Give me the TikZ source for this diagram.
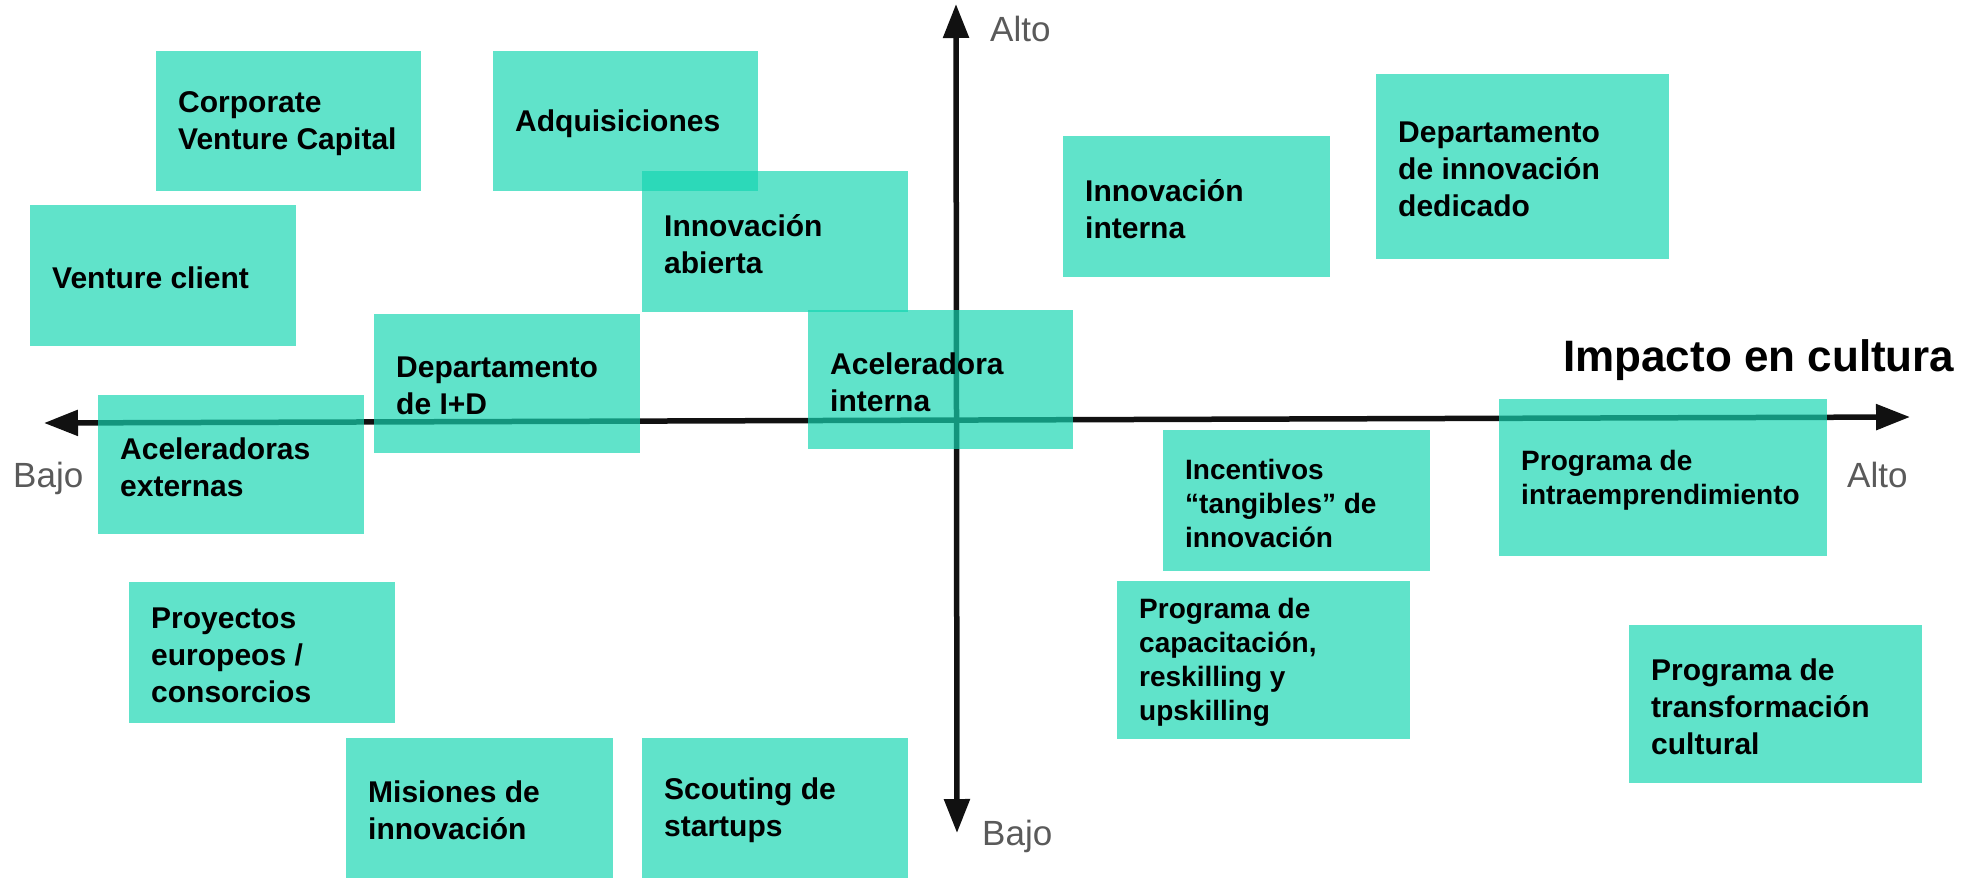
\documentclass[tikz,border=0pt]{standalone}
\usepackage{fontspec}
\setmainfont{Liberation Sans}
\usetikzlibrary{arrows.meta}
\definecolor{notefill}{RGB}{20,213,177}
\definecolor{axisc}{RGB}{17,17,17}
\definecolor{lblgray}{RGB}{90,90,90}
\tikzset{
  notebox/.style={fill=notefill, fill opacity=0.68, draw=none,
    anchor=north west, inner sep=0pt},
  notetext/.style={anchor=west, inner sep=0pt, align=left,
    font=\fontsize{30}{37}\selectfont\bfseries, text=black},
  notesm/.style={notetext, font=\fontsize{28}{34}\selectfont\bfseries},
  axisline/.style={draw=axisc, line width=5.5pt,
    {Triangle[length=34pt,width=25pt]}-{Triangle[length=34pt,width=25pt]}},
  axlbl/.style={anchor=base west, inner sep=0pt, text=lblgray,
    font=\fontsize{35}{42}\selectfont},
  titlelbl/.style={anchor=base west, inner sep=0pt, text=black,
    font=\fontsize{44}{50}\selectfont\bfseries},
}
\newcommand\postit[7][notetext]{%
  \node[notebox, minimum width=\dimexpr#5pt-#3pt\relax, minimum height=\dimexpr#6pt-#4pt\relax]
        (#2) at (#3,#4) {};
  \node[#1] (#2-t) at ([xshift=22pt,yshift=-2.5pt]#2.west) {#7};}
\begin{document}
\begin{tikzpicture}[x=1pt,y=-1pt]
\useasboundingbox (0,0) rectangle (1984,878);
% axes
\coordinate (xl) at (44,423);
\coordinate (xr) at (1910,417);
\coordinate (yt) at (956,4);
\coordinate (yb) at (957,833);
\draw[axisline] (xl) -- (xr);
\draw[axisline] (yb) -- (yt);
% axis labels
\node[axlbl] (altoy) at (990,41) {Alto};
\node[axlbl] (bajoy) at (982,845) {Bajo};
\node[axlbl] (bajox) at (13,487) {Bajo};
\node[axlbl] (altox) at (1847,487) {Alto};
\node[titlelbl] (title) at (1563,371) {Impacto en cultura};
% notes
\postit{cvc}{156}{51}{421}{191}{Corporate\\Venture Capital}
\postit{adq}{493}{51}{758}{191}{Adquisiciones}
\postit{abierta}{642}{171}{908}{312}{Innovación\\abierta}
\postit{vclient}{30}{205}{296}{346}{Venture client}
\postit{idep}{374}{314}{640}{453}{Departamento\\de I+D}
\postit{aext}{98}{395}{364}{534}{Aceleradoras\\externas}
\postit{aint}{808}{310}{1073}{449}{Aceleradora\\interna}
\postit{iint}{1063}{136}{1330}{277}{Innovación\\interna}
\postit{ddedic}{1376}{74}{1669}{259}{Departamento\\de innovación\\dedicado}
\postit[notesm]{incent}{1163}{430}{1430}{571}{Incentivos\\“tangibles” de\\innovación}
\postit[notesm]{intra}{1499}{399}{1827}{556}{Programa de\\intraemprendimiento}
\postit[notesm]{capac}{1117}{581}{1410}{739}{Programa de\\capacitación,\\reskilling y\\upskilling}
\postit{transf}{1629}{625}{1922}{783}{Programa de\\transformación\\cultural}
\postit{proy}{129}{582}{395}{723}{Proyectos\\europeos /\\consorcios}
\postit{misiones}{346}{738}{613}{878}{Misiones de\\innovación}
\postit{scouting}{642}{738}{908}{878}{Scouting de\\startups}
\end{tikzpicture}
\end{document}
